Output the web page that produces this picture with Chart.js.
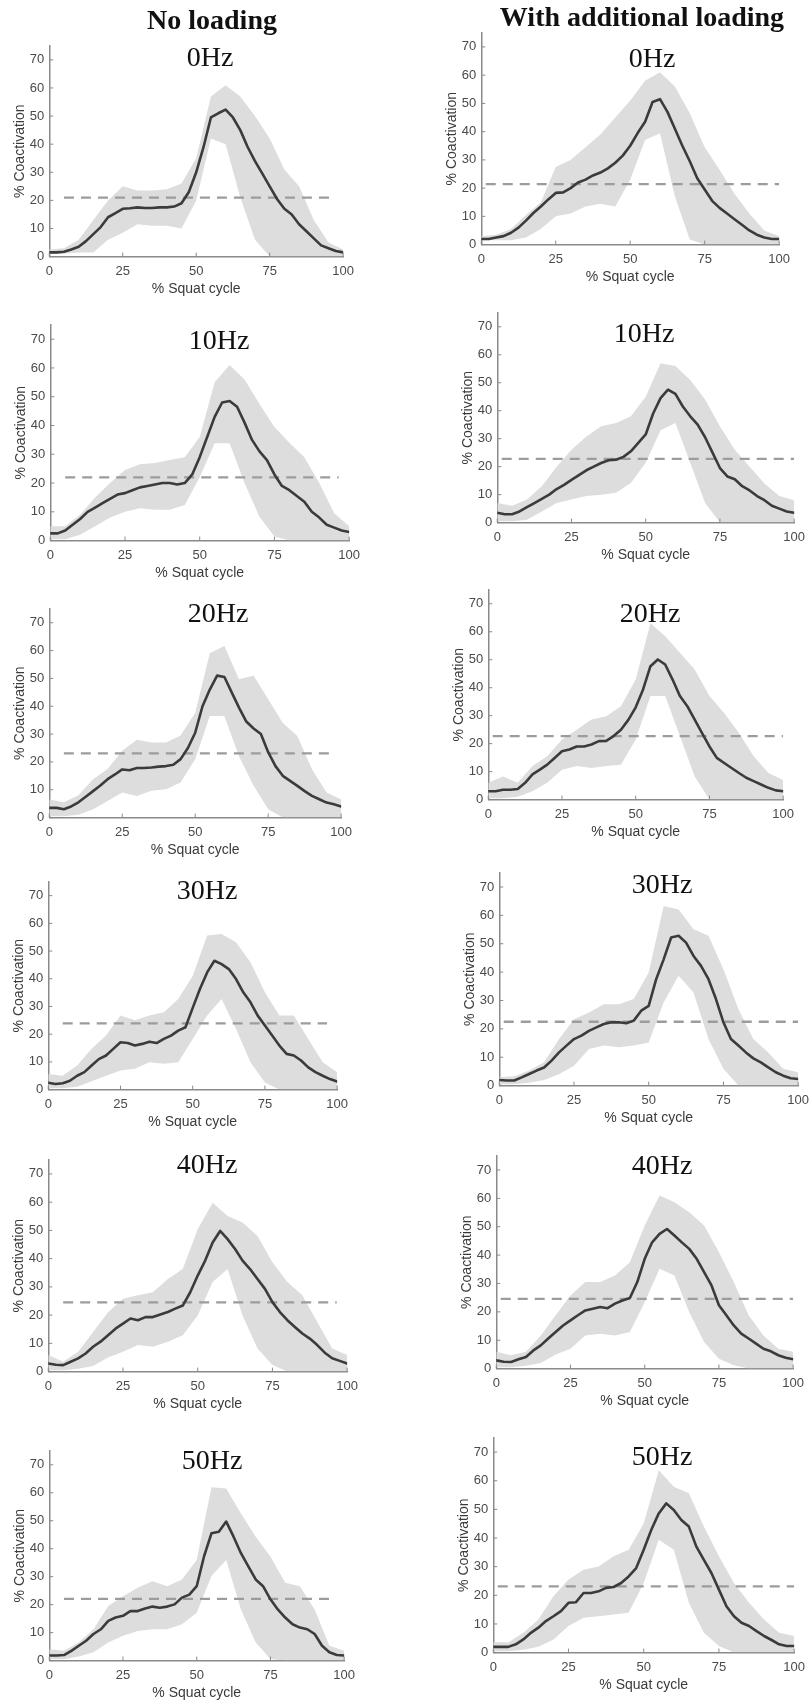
<!DOCTYPE html>
<html>
<head>
<meta charset="utf-8">
<script src="https://cdn.jsdelivr.net/npm/chart.js@4.4.1/dist/chart.umd.min.js"></script>
<style>
html,body{margin:0;padding:0;background:#fff;}
#page{position:relative;width:809px;height:1702px;overflow:hidden;background:#fff;}
.panel{position:absolute;}
.ttl{position:absolute;font-family:"Liberation Serif","Times New Roman",serif;font-size:28px;color:#111;transform:translate(-50%,-50%);white-space:nowrap;line-height:1;}
.head{font-weight:bold;}
</style>
</head>
<body>
<div id="page"></div>
<script>
// ---------------- DATA ----------------
const columnTitles = ["No loading", "With additional loading"];
const freqTitles = ["0Hz", "10Hz", "20Hz", "30Hz", "40Hz", "50Hz"];
const xTickValues = [0, 25, 50, 75, 100];
const yTickValues = [0, 10, 20, 30, 40, 50, 60, 70];
const xLabel = "% Squat cycle";
const yLabel = "% Coactivation";

// x positions (% squat cycle) of the mean curves and of the SD band
const xMean = [0,2.5,5,7.5,10,12.5,15,17.5,20,22.5,25,27.5,30,32.5,35,37.5,40,42.5,45,47.5,50,52.5,55,57.5,60,62.5,65,67.5,70,72.5,75,77.5,80,82.5,85,87.5,90,92.5,95,97.5,100];
const xBand = [0,5,10,15,20,25,30,35,40,45,50,55,60,65,70,75,80,85,90,95,100];

// ----- No loading -----
const meanNL0  = [1.5,1.5,1.7,2.5,3.5,5.5,8,10.5,14,15.5,17,17.2,17.5,17.3,17.3,17.5,17.5,17.8,19,23,30,39,49.5,51,52.3,49.5,45,39,34,29.5,25,20.5,17,15,11.5,9,6.5,4,3,2,1.5];
const upperNL0 = [2.5,3,6,13,20,25,23.5,23.5,24,26,35,57,61,57,50,42,31,25,13,5,2.5];
const lowerNL0 = [1,1,1.5,1.5,6,8.5,11.5,11,11,10,20,42,40,21,6,0,0,0,0,0,0];

const meanNL10  = [2.5,2.5,3.5,5.5,7.5,10,11.5,13,14.5,16,16.5,17.5,18.5,19,19.5,20,20,19.5,20,23,29,36,43,48,48.5,46.5,41,35,31,28,23,19,17.5,15.5,13.5,10,8,5.5,4.5,3.5,3];
const upperNL10 = [5,5,9,15,20,24.5,26.5,27,28,29,36,55,61,56,47.5,39.5,34,29,20,9.5,5];
const lowerNL10 = [0.5,0.5,2,5,8,10,11.2,10.7,10.7,12.4,22,33.8,33.8,20,8.3,1.4,0,0,0,0,0];

const meanNL20  = [3.5,3.5,3,4,5.5,7.5,9.5,11.5,13.8,15.5,17.3,17,17.8,17.8,18,18.3,18.5,19,21,25,30.5,40,46,51,50.5,45,39.5,34.5,32,30,23.5,18.5,15,13.2,11.4,9.5,7.8,6.6,5.4,4.8,4];
const upperNL20 = [6.5,5.5,8,13.8,17.5,24,28,27,27,29.5,37.7,59,61.6,49.7,51,42.5,34,29.3,17.4,9,6.5];
const lowerNL20 = [0.5,0.5,1,3,6,9,7.8,9.6,10.2,12.6,21,36.5,36.5,22,11.4,3,0,0,0,0,0];

const meanNL30  = [2.5,2,2.3,3.2,5,6.3,8.7,11,12.3,14.7,17.1,16.8,15.9,16.5,17.3,16.8,18.3,19.5,21.3,22.5,29.5,36.3,42.3,46.5,45.3,43.5,39.9,35.1,31.5,26.7,23.1,19.5,15.9,12.9,12.3,10.5,8,6.3,5,3.8,2.9];
const upperNL30 = [5.6,5,8.7,14.7,19.5,26.7,25,26.7,27.9,32.7,41,55.6,56.2,53.2,46,35.1,26.7,26.7,18.3,9.9,6.3];
const lowerNL30 = [0.5,0.5,1,3,5,6.9,7.5,9.9,9.3,9.9,18.3,26.7,32.7,21.9,9.9,2.6,0,0,0,0,0];

const meanNL40  = [2.9,2.4,2.3,3.5,4.7,6.4,8.8,10.6,12.9,15.2,17,18.8,18.2,19.3,19.3,20.2,21.1,22.3,23.4,28.1,34,39.3,45.7,49.8,46.9,43.4,39.3,36.3,32.8,29.3,24.6,21.1,18.2,15.8,13.5,11.7,9.4,6.7,4.7,3.8,2.9];
const upperNL40 = [5.9,3.5,7,14,21,25.8,27,28.1,32.8,36.3,50.4,59.8,55.1,52.8,48,38.7,31.7,27,17.6,8.2,5.9];
const lowerNL40 = [0.5,0.5,1,2,5,7,9.4,8.8,10.6,12.9,19.9,31.7,36.3,19.9,8.2,2.3,0,0,0,0,0];

const meanNL50  = [1.8,1.8,2,3.5,5.3,7.1,9.5,11.2,14.2,15.4,16,17.7,17.7,18.6,19.3,18.9,19.3,20.1,22.5,23.6,26.6,37.3,45.5,46.1,49.7,44.3,38.4,33.7,29,26.6,21.9,18.3,15.4,13,11.8,11.2,9.5,5.3,3,2,1.8];
const upperNL50 = [4.1,3.5,6.5,11.2,19.5,23,26,28.4,26.6,29,36,62,61.5,52.6,44.3,37.2,27.8,26.6,18.3,5.3,3.5];
const lowerNL50 = [0.5,0.5,1.5,3,6.5,8.9,10.6,11.2,11.2,13,17.1,30.2,36,18.3,6.5,0.6,0,0,0,0,0];

// ----- With additional loading -----
const meanWL0  = [2,2,2.5,3,4.2,6,8.5,11.2,13.5,16,18.3,18.5,20,22,23,24.5,25.5,27,29,31.5,35,39.5,43.5,50.5,51.5,47,41,35,29.5,23.5,19.5,15.5,13,11,9,7,5,3.5,2.5,2,2];
const upperWL0 = [3,3.5,5.5,10.5,15,27.5,30,34.5,39,45,51,58,61,56,46.5,34.5,26.5,18,11,5,3];
const lowerWL0 = [1.5,1.5,1.5,2.5,5.5,10,11,13.5,14.5,13.5,23,37,39.4,17,1.8,0,0,0,0,0,0];

const meanWL10  = [3.5,3,3,4,5.5,7,8.5,10,12,13.5,15.3,17,18.7,20,21.3,22.3,22.5,23.5,25.5,28.5,31.5,39,44.5,47.5,46,41.5,38,35,30.5,25,19.5,16.5,15.5,13,11.5,9.5,8,6,5,4,3.5];
const upperWL10 = [7,6,8.3,13,20,26,30.8,34.4,35.6,38,45,57,56,51,44,34.4,26,20,14,9.5,8];
const lowerWL10 = [0.5,0.5,1,4,7,8.3,9.5,10,10.7,14.2,21.4,33,35.6,21.4,7,0,0,0,0,0,0];

const meanWL20  = [3,3,3.5,3.5,3.8,6,9,10.7,12.5,14.9,17.3,17.9,19,19,19.7,20.9,21,22.7,25,28.5,33,39.4,47.7,50.1,48.3,42.9,37,33.4,28.6,23.8,19,14.9,13.1,11.3,9.5,7.8,6.6,5.4,4.2,3.3,3];
const upperWL20 = [6,8.3,6,12,15.5,21.5,25,28.6,29.8,33.4,42.9,63,58.4,52.5,46.5,37,31,23.8,15.5,9.5,7];
const lowerWL20 = [0.5,0.5,1,3,6,10.7,12,11.3,12,12.5,21.5,37,37,22.7,8.3,0,0,0,0,0,0];

const meanWL30  = [2,1.8,1.8,2.9,4.1,5.3,6.4,8.8,11.7,14.1,16.4,17.6,19.3,20.5,21.7,22.3,22.3,22,22.9,26.4,28.1,37.5,44.5,52.2,52.8,50.4,45.7,42.2,37.5,30.5,22.3,16.4,14.1,11.7,9.6,8.2,6.4,4.7,3.5,2.6,2.3];
const upperWL30 = [2.9,3.3,5.3,8.2,16.4,23.4,25.8,28.7,28.7,30.5,39.9,63.3,62.1,55.1,52.8,41,27,16.4,11.7,5.9,4.7];
const lowerWL30 = [0.5,0.5,1,2,4,7,12.9,14.1,13.5,14.1,15.2,29.3,38.7,32.8,16.4,5.9,0,0,0,0,0];

const meanWL40  = [2.9,2.4,2.3,3.3,4.1,6.4,8.2,10.6,12.9,15.2,17,18.8,20.5,21.1,21.7,21.3,22.9,24,24.9,30.5,38.7,44.5,47.5,49.2,46.9,44.5,42.2,38.7,34,29.3,22.3,18.8,15.2,12.3,10.6,8.8,7,6.1,4.7,3.8,3.3];
const upperWL40 = [5.9,4.7,5.9,11.7,18.8,25.8,30.5,30.5,32.8,37.5,50.4,61,58.6,55.1,50.4,41,30.5,18.8,11.7,7,5.9];
const lowerWL40 = [0.5,0.5,1,2,5,7,11.7,12.3,11.7,12.9,23.4,35.2,32.8,19.9,9.4,3.5,1.2,0,0,0,0];

const meanWL50  = [2,2,2,2.9,4.6,6.9,8.7,11,12.7,14.5,17.4,17.6,20.8,20.8,21.4,22.6,22.9,24.3,26.6,29.5,35.9,42.8,48.6,52.1,49.8,46.3,44,37,32.4,27.8,22,16.2,12.7,10.4,9.3,7.5,5.8,4.4,2.9,2.3,2.3];
const upperWL50 = [3.7,3.5,6.9,11.6,19.7,25.5,28.9,30.1,33.6,35.9,45.1,63.7,57.9,55.6,44,33.6,24.3,17.4,11.6,6.9,5.8];
const lowerWL50 = [0.5,0.5,1,2,4.6,9.3,12.2,12.7,13.3,13.9,24.3,39.4,35.9,17.4,6.9,2.3,0,0,0,0,0];

// dashed reference level (% coactivation) per frequency
const thresholdNL = [21, 22, 23.1, 23.9, 24.5, 22.1];
const thresholdWL = [21.4, 22.8, 22.7, 22.5, 24.6, 23.1];
// x extent (% squat cycle) of the dashed line
const dashExtentNL = [5, 96.5];
const dashExtentWL = [1.5, 100];

// ---------------- LAYOUT / STYLE ----------------
const Y_MAX = 75;
// page pixel boxes of each plot: [x of y-axis, x of 100%, y of 70, y of 0]
const PLOT_BOX = [
  [[49,343,60,257],[50,349,339,541],[49,341,623,818],[48,337,896,1090],[48,347,1174,1372],[49,344,1465,1661]],
  [[481,779,47,245],[497,794,327,523],[488,783,604,800],[499,798,887,1086],[496,793,1170,1369],[493,794,1452,1653]]
];
const TITLE_POS = [
  [[210,57],[219,340],[218,613],[207,890],[207,1164],[212,1460]],
  [[652,58],[644,333],[650,613],[662,884],[662,1165],[662,1456]]
];
const HEAD_POS = [[212,20],[642,17]];

const BAND_COLOR = '#dddddd';
const LINE_COLOR = '#3b3b3b';
const DASH_COLOR = '#9c9c9c';
const AXIS_COLOR = '#8a8a8a';
const TICK_COLOR = '#4a4a4a';
const LABEL_COLOR = '#3a3a3a';
const SANS = '"Liberation Sans", Arial, Helvetica, sans-serif';

const series = [
  [[meanNL0,upperNL0,lowerNL0],[meanNL10,upperNL10,lowerNL10],[meanNL20,upperNL20,lowerNL20],[meanNL30,upperNL30,lowerNL30],[meanNL40,upperNL40,lowerNL40],[meanNL50,upperNL50,lowerNL50]],
  [[meanWL0,upperWL0,lowerWL0],[meanWL10,upperWL10,lowerWL10],[meanWL20,upperWL20,lowerWL20],[meanWL30,upperWL30,lowerWL30],[meanWL40,upperWL40,lowerWL40],[meanWL50,upperWL50,lowerWL50]]
];
const thresholds = [thresholdNL, thresholdWL];
const dashExtents = [dashExtentNL, dashExtentWL];

const inwardTicks = {
  id: 'inwardTicks',
  afterDatasetsDraw(chart) {
    const {ctx, chartArea: ca, scales: {x, y}} = chart;
    ctx.save();
    ctx.strokeStyle = AXIS_COLOR;
    ctx.lineWidth = 1;
    ctx.beginPath();
    xTickValues.forEach(v => { const p = x.getPixelForValue(v); ctx.moveTo(p, ca.bottom); ctx.lineTo(p, ca.bottom - 4); });
    yTickValues.forEach(v => { const p = y.getPixelForValue(v); ctx.moveTo(ca.left, p); ctx.lineTo(ca.left + 4, p); });
    ctx.stroke();
    ctx.restore();
  }
};

function buildConfig(mean, upper, lower, thr, ext) {
  return {
    type: 'line',
    data: {
      datasets: [
        { data: xBand.map((x, i) => ({x, y: upper[i]})), fill: '+1', backgroundColor: BAND_COLOR, borderWidth: 0, borderColor: 'rgba(0,0,0,0)', pointRadius: 0, order: 3 },
        { data: xBand.map((x, i) => ({x, y: lower[i]})), fill: false, borderWidth: 0, borderColor: 'rgba(0,0,0,0)', pointRadius: 0, order: 3 },
        { data: [{x: ext[0], y: thr}, {x: ext[1], y: thr}], fill: false, borderColor: DASH_COLOR, borderWidth: 2.3, borderDash: [10, 7], pointRadius: 0, order: 2 },
        { data: xMean.map((x, i) => ({x, y: mean[i]})), fill: false, borderColor: LINE_COLOR, borderWidth: 2.6, pointRadius: 0, order: 1, borderJoinStyle: 'round', borderCapStyle: 'round' }
      ]
    },
    options: {
      responsive: false,
      maintainAspectRatio: false,
      animation: false,
      events: [],
      layout: { padding: 0 },
      plugins: { legend: { display: false }, tooltip: { enabled: false }, title: { display: false } },
      scales: {
        x: {
          type: 'linear', min: 0, max: 100,
          afterBuildTicks: a => { a.ticks = xTickValues.map(v => ({value: v})); },
          grid: { display: false, drawTicks: false },
          border: { display: true, color: AXIS_COLOR, width: 1.5 },
          ticks: { font: { family: SANS, size: 13 }, color: TICK_COLOR, padding: 7, maxRotation: 0, autoSkip: false },
          title: { display: true, text: xLabel, font: { family: SANS, size: 14 }, color: LABEL_COLOR, padding: { top: -5, bottom: 0 } }
        },
        y: {
          type: 'linear', min: 0, max: Y_MAX,
          afterBuildTicks: a => { a.ticks = yTickValues.map(v => ({value: v})); },
          grid: { display: false, drawTicks: false },
          border: { display: true, color: AXIS_COLOR, width: 1.5 },
          ticks: { font: { family: SANS, size: 13 }, color: TICK_COLOR, padding: 5 },
          title: { display: true, text: yLabel, font: { family: SANS, size: 14 }, color: LABEL_COLOR, padding: { top: 0, bottom: -4 } }
        }
      }
    },
    plugins: [inwardTicks]
  };
}

const page = document.getElementById('page');

function makePanel(col, row) {
  const [mean, upper, lower] = series[col][row];
  const thr = thresholds[col][row];
  const ext = dashExtents[col];
  const box = PLOT_BOX[col][row];

  // measurement pass
  const probe = document.createElement('canvas');
  probe.width = 400; probe.height = 300;
  probe.style.width = '400px'; probe.style.height = '300px';
  const pw = document.createElement('div');
  pw.style.position = 'absolute'; pw.style.left = '-2000px'; pw.style.top = '0px';
  pw.appendChild(probe); document.body.appendChild(pw);
  const pc = new Chart(probe, buildConfig(mean, upper, lower, thr, ext));
  const ca = pc.chartArea;
  const ml = ca.left, mt = ca.top, mr = pc.width - ca.right, mb = pc.height - ca.bottom;
  pc.destroy(); pw.remove();

  const unit = (box[3] - box[2]) / 70;
  const plotTop = box[3] - Y_MAX * unit;
  const W = ml + (box[1] - box[0]) + mr;
  const H = mt + (box[3] - plotTop) + mb;

  const wrap = document.createElement('div');
  wrap.className = 'panel';
  wrap.style.left = (box[0] - ml) + 'px';
  wrap.style.top = (plotTop - mt) + 'px';
  wrap.style.width = W + 'px';
  wrap.style.height = H + 'px';
  const cv = document.createElement('canvas');
  cv.width = W; cv.height = H;
  cv.style.width = W + 'px'; cv.style.height = H + 'px';
  wrap.appendChild(cv);
  page.appendChild(wrap);
  new Chart(cv, buildConfig(mean, upper, lower, thr, ext));

  const t = document.createElement('div');
  t.className = 'ttl';
  t.textContent = freqTitles[row];
  t.style.left = TITLE_POS[col][row][0] + 'px';
  t.style.top = TITLE_POS[col][row][1] + 'px';
  page.appendChild(t);
}

for (let c = 0; c < 2; c++) {
  for (let r = 0; r < 6; r++) makePanel(c, r);
  const h = document.createElement('div');
  h.className = 'ttl head';
  h.textContent = columnTitles[c];
  h.style.left = HEAD_POS[c][0] + 'px';
  h.style.top = HEAD_POS[c][1] + 'px';
  page.appendChild(h);
}
</script>
</body>
</html>
